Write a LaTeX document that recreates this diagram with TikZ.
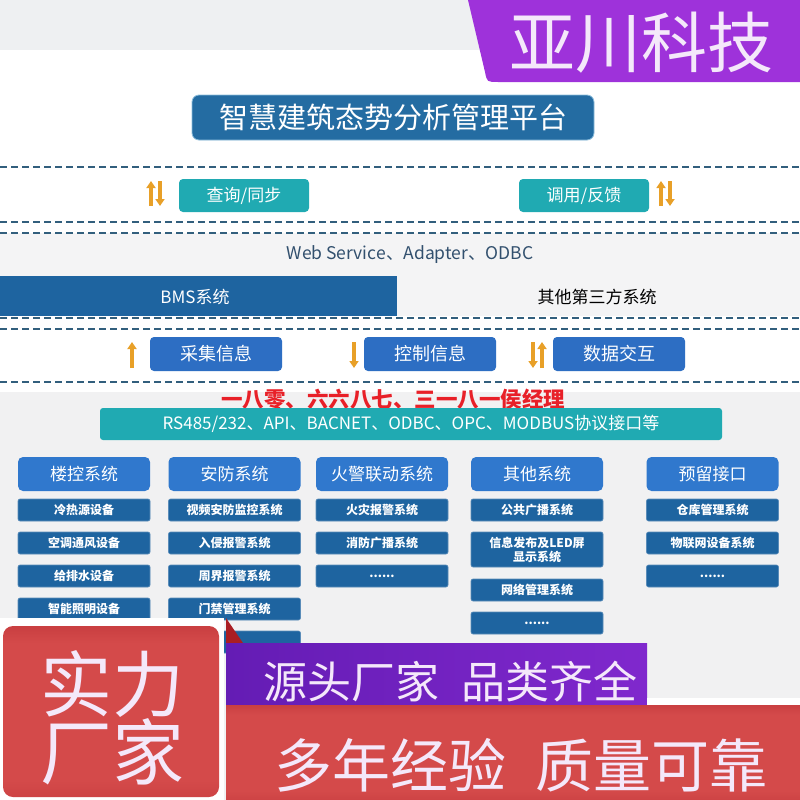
\documentclass[tikz,border=0pt]{standalone}
\usepackage{fontspec}
\setmainfont{Noto Sans CJK SC}
\usetikzlibrary{arrows.meta}
\definecolor{topgray}{RGB}{238,240,242}
\definecolor{bannerpurple}{RGB}{158,50,218}
\definecolor{bannertext}{RGB}{244,232,250}
\definecolor{titleblue}{RGB}{36,108,162}
\definecolor{titleedge}{RGB}{140,190,220}
\definecolor{tealbox}{RGB}{32,170,178}
\definecolor{arroworange}{RGB}{232,160,40}
\definecolor{dashcol}{RGB}{50,95,125}
\definecolor{bandgray}{RGB}{244,244,245}
\definecolor{webtext}{RGB}{50,80,110}
\definecolor{bmsblue}{RGB}{30,100,160}
\definecolor{infoblue}{RGB}{45,110,195}
\definecolor{lowgray}{RGB}{241,241,242}
\definecolor{phonered}{RGB}{232,32,40}
\definecolor{hdrblue}{RGB}{48,120,205}
\definecolor{itemblue}{RGB}{30,100,160}
\definecolor{itemedge}{RGB}{90,140,185}
\definecolor{rbTop}{RGB}{228,58,58}
\definecolor{rbMid}{RGB}{212,74,74}
\definecolor{rbBot}{RGB}{172,34,40}
\definecolor{ppLeft}{RGB}{100,28,180}
\definecolor{ppRight}{RGB}{128,40,205}
\definecolor{darkred}{RGB}{170,30,35}
\pgfdeclareverticalshading{redshade}{100bp}{color(0bp)=(rbBot); color(30bp)=(rbMid); color(70bp)=(rbMid); color(88bp)=(rbBot); color(100bp)=(rbTop)}
\tikzset{
  fs/.style={font=\fontsize{#1}{#1}\selectfont},
  tealnode/.style={fill=tealbox, rounded corners=4pt, text=white, fs=17, minimum width=130pt, minimum height=33pt, inner sep=0pt},
  infonode/.style={fill=infoblue, rounded corners=4pt, text=white, fs=18, minimum width=132pt, minimum height=34pt, inner sep=0pt},
  hdrnode/.style={fill=hdrblue, rounded corners=5pt, text=white, fs=17, minimum width=132pt, minimum height=34pt, inner sep=0pt},
  itemnode/.style={fill=itemblue, draw=itemedge, line width=0.6pt, rounded corners=2pt, text=white, font=\fontsize{12}{14}\selectfont\bfseries, minimum width=132pt, minimum height=22pt, inner sep=0pt, align=center},
  dashline/.style={draw=dashcol, line width=1.4pt, dash pattern=on 7pt off 4pt},
  oarrow/.style={draw=arroworange, line width=3.6pt, -{Triangle[width=9pt,length=7pt]}},
}
\begin{document}
\begin{tikzpicture}[x=1pt,y=-1pt]
\useasboundingbox (0,0) rectangle (800,800);
% backgrounds
\fill[white] (0,0) rectangle (800,800);
\fill[topgray] (0,0) rectangle (800,50);
\fill[bannerpurple] (468,0) -- (800,0) -- (800,82) -- (498,82) .. controls (487,82) .. (485,72) -- cycle;
\node[text=bannertext, fs=66, inner sep=0pt] (brand) at (641,43) {亚川科技};
% title
\node[fill=titleblue, draw=titleedge, line width=0.8pt, rounded corners=7pt, minimum width=402pt, minimum height=45pt, inner sep=0pt, text=white, fs=29] (title) at (393,117.5) {智慧建筑态势分析管理平台};
% dashed lines
\draw[dashline] (0,167) -- (800,167);
\draw[dashline] (0,222) -- (800,222);
\fill[bandgray] (0,233) rectangle (800,276);
\draw[dashline] (0,233) -- (800,233);
\node[text=webtext, fs=17.5] (web) at (410,255) {Web Service、Adapter、ODBC};
% BMS row
\fill[bmsblue] (0,276) rectangle (397,316);
\fill[bandgray] (397,276) rectangle (800,316);
\node[text=white, fs=17] (bms) at (195,297) {BMS系统};
\node[text=black, fs=17] (third) at (597,297) {其他第三方系统};
\draw[dashline] (0,318) -- (800,318);
\draw[dashline] (0,329) -- (800,329);
\draw[dashline] (0,382) -- (800,382);
% teal boxes
\node[tealnode] (query) at (244,195.5) {查询/同步};
\node[tealnode] (call) at (584,195.5) {调用/反馈};
\coordinate (qa1) at (151,206); \coordinate (qa2) at (151,181);
\coordinate (qb1) at (160,181); \coordinate (qb2) at (160,206);
\draw[oarrow] (qa1) -- (qa2); \draw[oarrow] (qb1) -- (qb2);
\coordinate (ca1) at (661,206); \coordinate (ca2) at (661,181);
\coordinate (cb1) at (670,181); \coordinate (cb2) at (670,206);
\draw[oarrow] (ca1) -- (ca2); \draw[oarrow] (cb1) -- (cb2);
% info boxes
\node[infonode] (collect) at (216,354) {采集信息};
\node[infonode] (control) at (430,354) {控制信息};
\node[infonode] (data) at (619,354) {数据交互};
\coordinate (ia1) at (132,368); \coordinate (ia2) at (132,342);
\draw[oarrow] (ia1) -- (ia2);
\coordinate (ib1) at (354,342); \coordinate (ib2) at (354,368);
\draw[oarrow] (ib1) -- (ib2);
\coordinate (ic1) at (533,342); \coordinate (ic2) at (533,368);
\coordinate (id1) at (542,368); \coordinate (id2) at (542,342);
\draw[oarrow] (ic1) -- (ic2); \draw[oarrow] (id1) -- (id2);
% lower background
\fill[lowgray] (0,392) rectangle (800,800);
\node[text=phonered, font=\fontsize{21.5}{21.5}\selectfont\bfseries] (phone) at (393,399) {一八零、六六八七、三一八一侯经理};
\node[fill=tealbox, rounded corners=3pt, minimum width=622pt, minimum height=32pt, inner sep=0pt, text=white, fs=17] (proto) at (411,424) {RS485/232、API、BACNET、ODBC、OPC、MODBUS协议接口等};
% columns
\node[hdrnode] (h1) at (84,474) {楼控系统};
\node[hdrnode] (h2) at (234.5,474) {安防系统};
\node[hdrnode] (h3) at (382,474) {火警联动系统};
\node[hdrnode] (h4) at (537,474) {其他系统};
\node[hdrnode] (h5) at (712.5,474) {预留接口};
\node[itemnode] (c1a) at (84,510) {冷热源设备};
\node[itemnode] (c1b) at (84,543) {空调通风设备};
\node[itemnode] (c1c) at (84,576) {给排水设备};
\node[itemnode] (c1d) at (84,609) {智能照明设备};
\node[itemnode] (c2a) at (234.5,510) {视频安防监控系统};
\node[itemnode] (c2b) at (234.5,543) {入侵报警系统};
\node[itemnode] (c2c) at (234.5,576) {周界报警系统};
\node[itemnode] (c2d) at (234.5,609) {门禁管理系统};
\node[itemnode] (c2e) at (234.5,642) {};
\node[itemnode] (c3a) at (382,510) {火灾报警系统};
\node[itemnode] (c3b) at (382,543) {消防广播系统};
\node[itemnode] (c3c) at (382,576) {......};
\node[itemnode] (c4a) at (537,510) {公共广播系统};
\node[itemnode, minimum height=35pt] (c4b) at (537,549.5) {信息发布及LED屏\\显示系统};
\node[itemnode] (c4c) at (537,590) {网络管理系统};
\node[itemnode] (c4d) at (537,623) {......};
\node[itemnode] (c5a) at (712.5,510) {仓库管理系统};
\node[itemnode] (c5b) at (712.5,543) {物联网设备系统};
\node[itemnode] (c5c) at (712.5,576) {......};
% bottom overlays
\fill[white] (0,618) rectangle (224,800);
\shade[shading=redshade, rounded corners=10pt] (3,626) rectangle (219,797);
\node[text=bannertext, fs=72, inner sep=0pt] (sl1) at (112,684) {实力};
\node[text=bannertext, fs=72, inner sep=0pt] (sl2) at (112,752) {厂家};
\fill[darkred] (226,618) -- (243,643) -- (226,643) -- cycle;
\shade[left color=ppLeft, right color=ppRight] (226,643) rectangle (647,705);
\fill[white] (647,698) rectangle (800,705);
\shade[shading=redshade] (226,705) rectangle (800,800);
\node[text=bannertext, fs=44, inner sep=0pt] (slogan1) at (450,682) {源头厂家\hspace{0.5em}品类齐全};
\node[text=bannertext, fs=58, inner sep=0pt] (slogan2) at (521,765) {多年经验\hspace{0.5em}质量可靠};
\end{tikzpicture}
\end{document}
